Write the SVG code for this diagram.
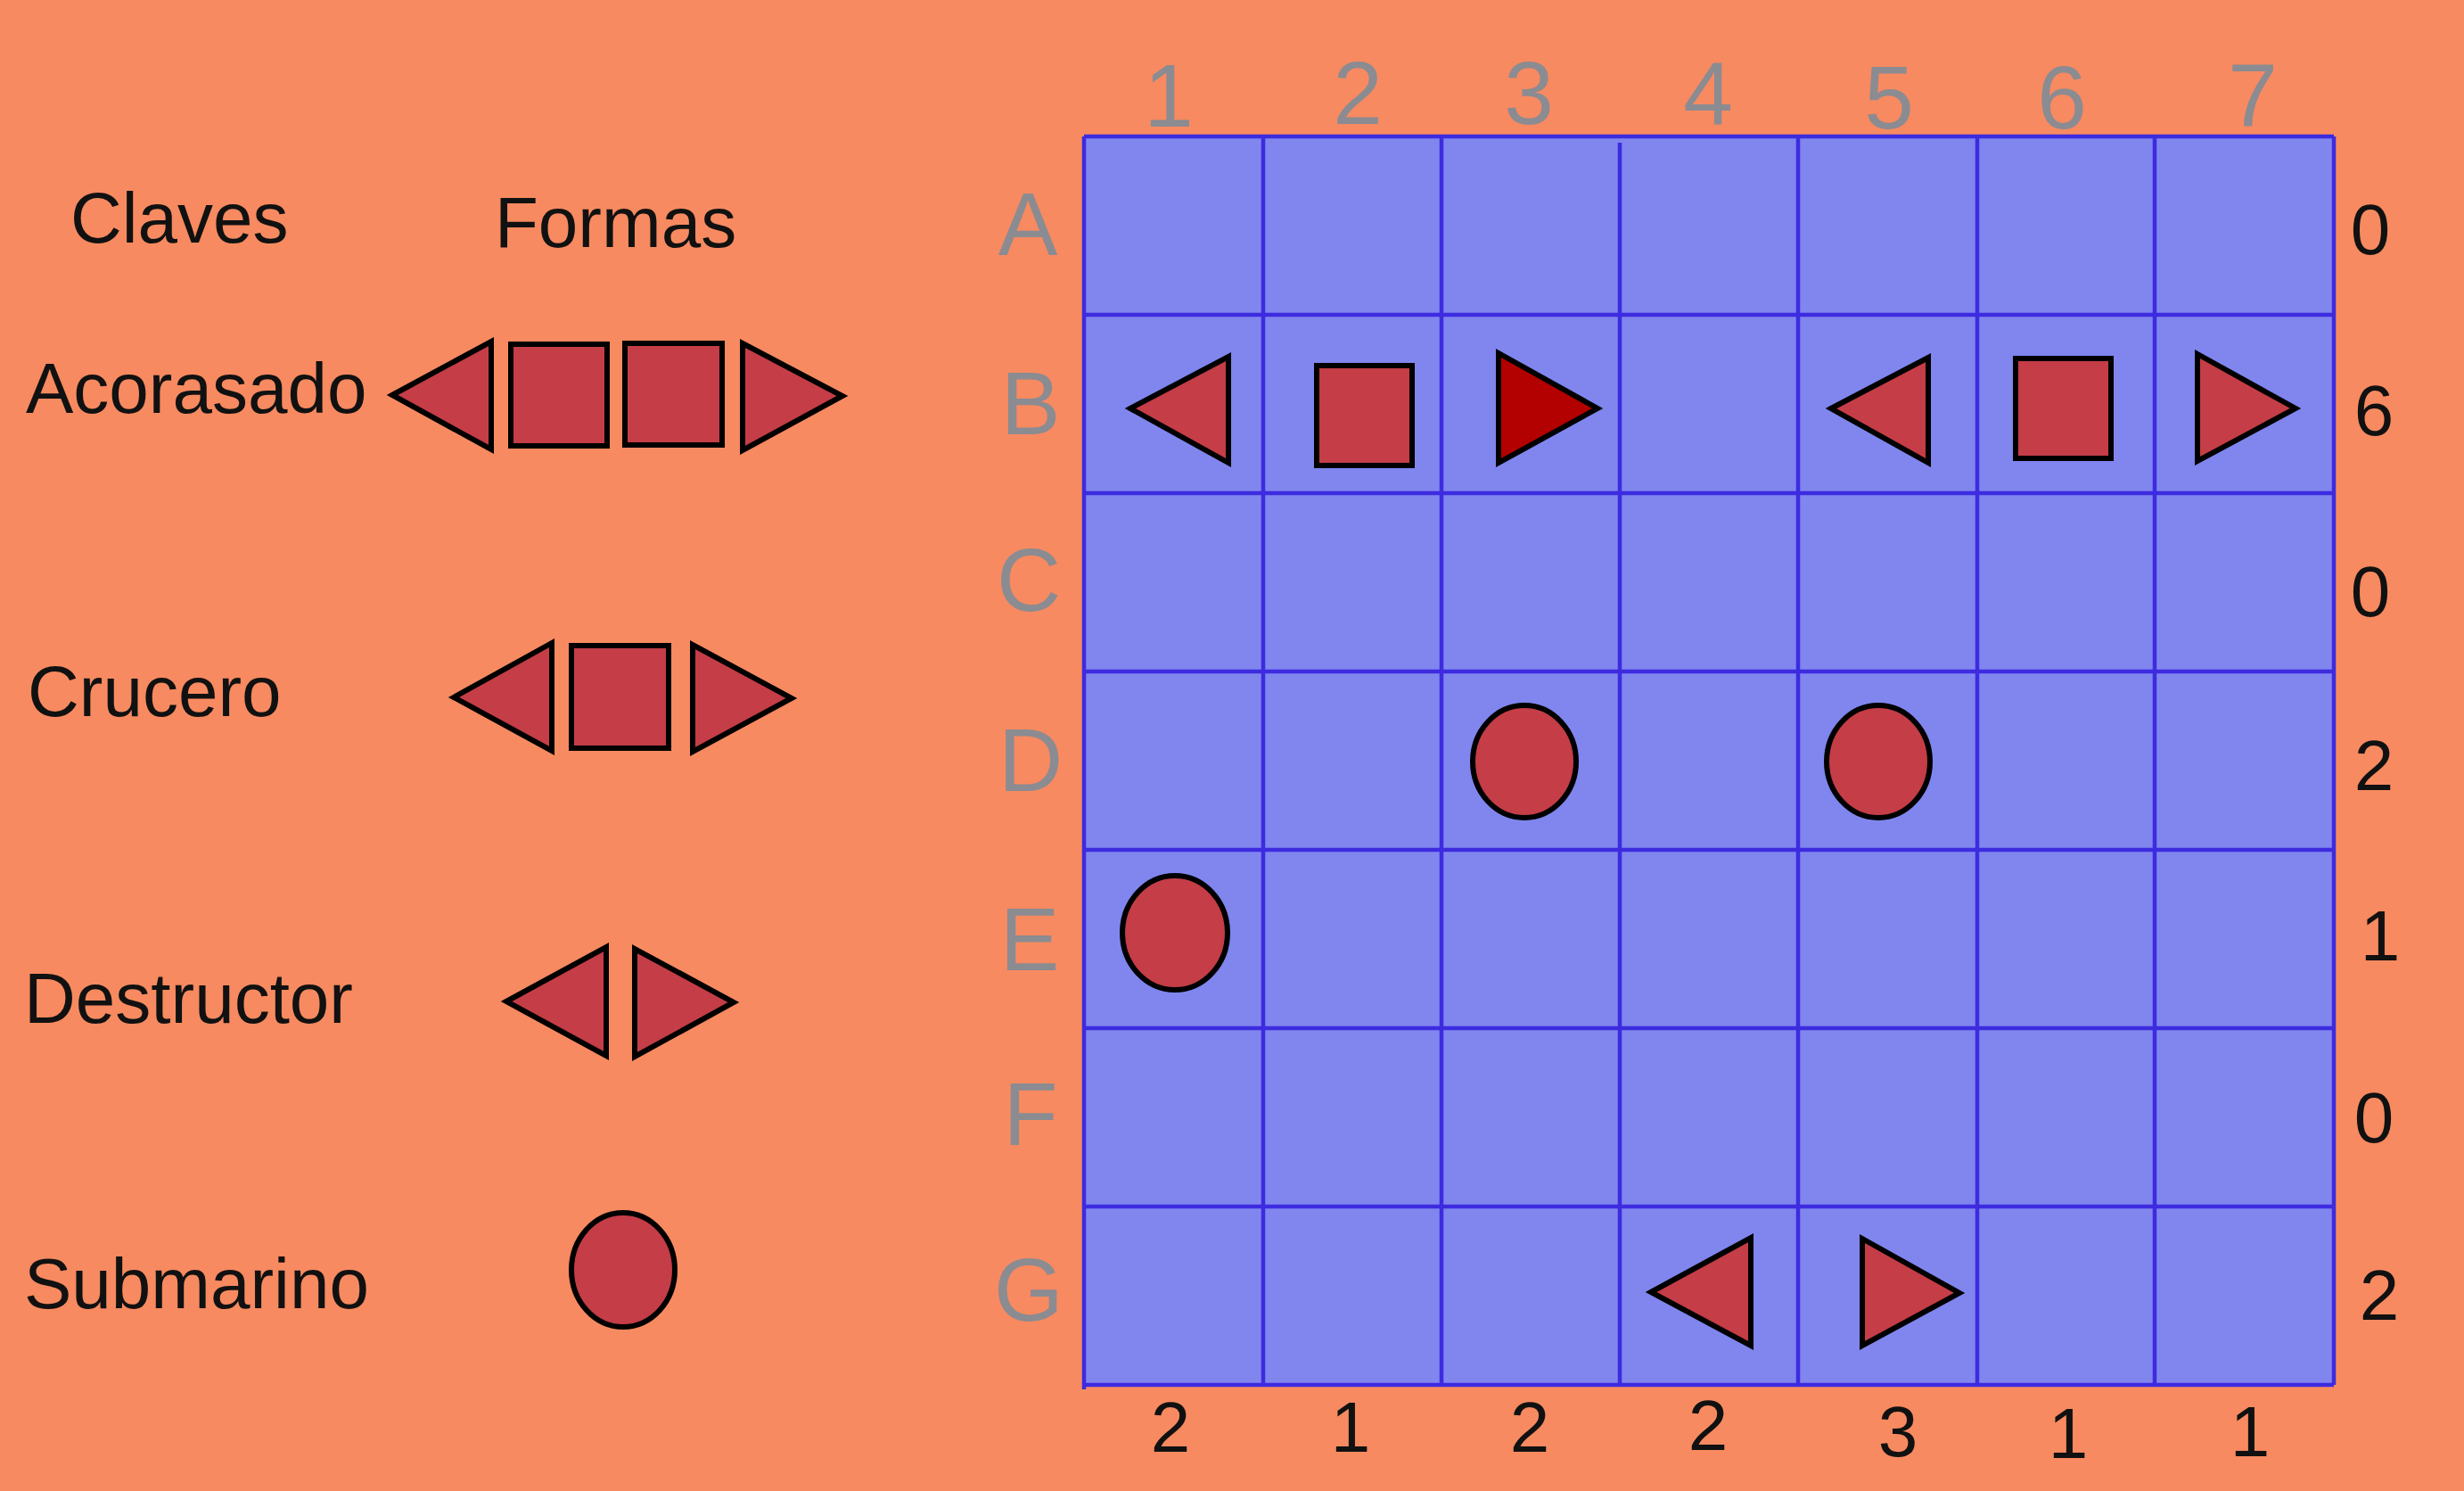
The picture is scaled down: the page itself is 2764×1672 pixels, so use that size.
<svg xmlns="http://www.w3.org/2000/svg" width="2764" height="1672" viewBox="0 0 2764 1672">
<style>
.bg{fill:#f78a60}
.grid-bg{fill:#8086ee}
.gl{stroke:#3d2be0;stroke-width:4.5;fill:none}
.sh{fill:#c43d47;stroke:#000;stroke-width:6;stroke-linejoin:miter}
.dk{fill:#b30000;stroke:#000;stroke-width:6}
.hdr{font-family:"Liberation Sans",Arial,sans-serif;font-size:100px;fill:#8b8b92;text-anchor:middle}
.num{font-family:"Liberation Sans",Arial,sans-serif;font-size:80px;fill:#111;text-anchor:middle}
.lbl{font-family:"Liberation Sans",Arial,sans-serif;font-size:80px;fill:#111}
</style>
<rect class="bg" x="0" y="0" width="2764" height="1672"/>

<g id="legend">
  <text class="lbl" x="79" y="272">Claves</text>
  <text class="lbl" x="555" y="277">Formas</text>
  <g id="legend-acorasado">
    <text class="lbl" x="29" y="463">Acorasado</text>
    <polygon class="sh" points="440,443 551,383 551,504"/>
    <rect class="sh" x="573" y="386" width="108" height="114"/>
    <rect class="sh" x="701" y="385" width="109" height="114"/>
    <polygon class="sh" points="833,385 833,505 945,444"/>
  </g>
  <g id="legend-crucero">
    <text class="lbl" x="31" y="803">Crucero</text>
    <polygon class="sh" points="509,782 619,721 619,842"/>
    <rect class="sh" x="641" y="724" width="109" height="115"/>
    <polygon class="sh" points="777,723 777,843 888,783"/>
  </g>
  <g id="legend-destructor">
    <text class="lbl" x="27" y="1147">Destructor</text>
    <polygon class="sh" points="568,1123 680,1062 680,1184"/>
    <polygon class="sh" points="712,1064 712,1185 823,1124"/>
  </g>
  <g id="legend-submarino">
    <text class="lbl" x="27" y="1467">Submarino</text>
    <ellipse class="sh" cx="699" cy="1424" rx="58" ry="64"/>
  </g>
</g>

<g id="board">
  <rect class="grid-bg" x="1216" y="153" width="1402" height="1400"/>
  <g id="grid-lines">
    <line class="gl" x1="1216" y1="153" x2="2618" y2="153"/>
    <line class="gl" x1="1216" y1="353" x2="2618" y2="353"/>
    <line class="gl" x1="1216" y1="553" x2="2618" y2="553"/>
    <line class="gl" x1="1216" y1="753" x2="2618" y2="753"/>
    <line class="gl" x1="1216" y1="953" x2="2618" y2="953"/>
    <line class="gl" x1="1216" y1="1153" x2="2618" y2="1153"/>
    <line class="gl" x1="1216" y1="1353" x2="2618" y2="1353"/>
    <line class="gl" x1="1216" y1="1553" x2="2618" y2="1553"/>
    <line class="gl" x1="1216" y1="153" x2="1216" y2="1558"/>
    <line class="gl" x1="1417" y1="153" x2="1417" y2="1553"/>
    <line class="gl" x1="1617" y1="153" x2="1617" y2="1553"/>
    <line class="gl" x1="1817" y1="160" x2="1817" y2="1553"/>
    <line class="gl" x1="2017" y1="153" x2="2017" y2="1553"/>
    <line class="gl" x1="2218" y1="153" x2="2218" y2="1553"/>
    <line class="gl" x1="2417" y1="153" x2="2417" y2="1553"/>
    <line class="gl" x1="2618" y1="153" x2="2618" y2="1553"/>
  </g>
  <g id="col-headers">
    <text class="hdr" x="1311" y="142">1</text>
    <text class="hdr" x="1523" y="139">2</text>
    <text class="hdr" x="1715" y="139">3</text>
    <text class="hdr" x="1916" y="140">4</text>
    <text class="hdr" x="2119" y="144">5</text>
    <text class="hdr" x="2313" y="144">6</text>
    <text class="hdr" x="2527" y="142">7</text>
  </g>
  <g id="row-headers">
    <text class="hdr" x="1153" y="286">A</text>
    <text class="hdr" x="1156" y="487">B</text>
    <text class="hdr" x="1154" y="685">C</text>
    <text class="hdr" x="1156" y="887">D</text>
    <text class="hdr" x="1155" y="1088">E</text>
    <text class="hdr" x="1156" y="1284">F</text>
    <text class="hdr" x="1154" y="1481">G</text>
  </g>
  <g id="row-counts">
    <text class="num" x="2659" y="285">0</text>
    <text class="num" x="2663" y="488">6</text>
    <text class="num" x="2659" y="691">0</text>
    <text class="num" x="2663" y="886">2</text>
    <text class="num" x="2670" y="1077">1</text>
    <text class="num" x="2663" y="1281">0</text>
    <text class="num" x="2669" y="1480">2</text>
  </g>
  <g id="col-counts">
    <text class="num" x="1313" y="1628">2</text>
    <text class="num" x="1515" y="1628">1</text>
    <text class="num" x="1716" y="1628">2</text>
    <text class="num" x="1916" y="1626">2</text>
    <text class="num" x="2129" y="1633">3</text>
    <text class="num" x="2320" y="1635">1</text>
    <text class="num" x="2524" y="1633">1</text>
  </g>
  <g id="ship-B1"><polygon class="sh" points="1268,458 1378,400 1378,519"/></g>
  <g id="ship-B2"><rect class="sh" x="1477" y="410" width="107" height="112"/></g>
  <g id="ship-B3"><polygon class="dk" points="1681,396 1681,519 1792,458"/></g>
  <g id="ship-B5"><polygon class="sh" points="2054,458 2163,401 2163,519"/></g>
  <g id="ship-B6"><rect class="sh" x="2261" y="402" width="107" height="112"/></g>
  <g id="ship-B7"><polygon class="sh" points="2465,397 2465,517 2575,458"/></g>
  <g id="ship-D3"><ellipse class="sh" cx="1710" cy="854" rx="58" ry="63"/></g>
  <g id="ship-D5"><ellipse class="sh" cx="2107" cy="854" rx="58" ry="63"/></g>
  <g id="ship-E1"><ellipse class="sh" cx="1318" cy="1046" rx="59" ry="64"/></g>
  <g id="ship-G4"><polygon class="sh" points="1852,1449 1964,1388 1964,1509"/></g>
  <g id="ship-G5"><polygon class="sh" points="2089,1389 2089,1509 2198,1450"/></g>
</g>
<g id="connectors"/>
</svg>
